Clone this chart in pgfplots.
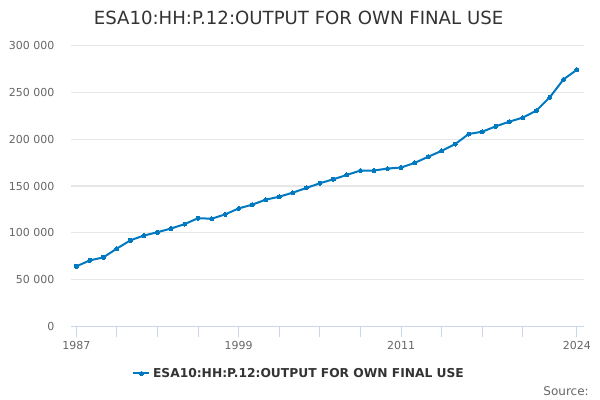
\documentclass[border=0pt]{standalone}
\usepackage{pgfplots}
\pgfplotsset{compat=1.18}
\usepackage{fontspec}
\setmainfont{DejaVu Sans}
\definecolor{lineblue}{RGB}{0,121,193}
\definecolor{gridgray}{RGB}{230,230,230}
\definecolor{axisblue}{RGB}{204,214,235}
\definecolor{labelgray}{RGB}{102,102,102}
\definecolor{titlegray}{RGB}{51,51,51}
\begin{document}
\begin{tikzpicture}
\path[use as bounding box] (0,0) rectangle (450pt,300pt);
\begin{axis}[
  at={(53.25pt,54.975pt)}, anchor=south west,
  scale only axis, width=384.75pt, height=211.05pt,
  xmin=1986.61, xmax=2024.52, ymin=0, ymax=300000,
  axis x line*=bottom, axis y line*=left,
  x axis line style={draw=axisblue, line width=0.75pt, -},
  y axis line style={draw=none, -},
  xtick={1987,1990,1993,1996,1999,2002,2005,2008,2011,2014,2017,2020,2024},
  xticklabels={1987,,,,1999,,,,2011,,,,2024},
  tick align=outside, major tick length=7.5pt,
  xtick style={draw=axisblue, line width=0.75pt},
  ytick={0,50000,100000,150000,200000,250000,300000},
  yticklabels={0,50 000,100 000,150 000,200 000,250 000,300 000},
  scaled y ticks=false,
  ymajorgrids, grid style={draw=gridgray, line width=0.75pt},
  ytick style={draw=none},
  yticklabel style={font=\fontsize{8.25pt}{9pt}\selectfont, text=labelgray, anchor=east, xshift=-1.5pt},
  xticklabel style={font=\fontsize{8.25pt}{9pt}\selectfont, text=labelgray},
  clip=false,
  legend style={at={(0.4454,-0.1663)}, anchor=center, draw=none, fill=none,
    font=\fontsize{9.2pt}{11pt}\selectfont\bfseries, text=titlegray},
  legend image code/.code={\draw[mark repeat=2,mark phase=2,#1] plot coordinates {(0cm,0cm) (0.21cm,0cm) (0.42cm,0cm)};},
]
\addplot[color=lineblue, line width=1.5pt, mark=*, mark size=1.5pt, mark options={draw=lineblue, fill=lineblue, line width=0pt}] coordinates {
(1987,64300) (1988,70700) (1989,73900) (1990,83300) (1991,92100) (1992,97200)
(1993,100700) (1994,104700) (1995,109300) (1996,115700) (1997,115100) (1998,119700)
(1999,126100) (2000,130100) (2001,135400) (2002,138600) (2003,142900) (2004,147900)
(2005,152900) (2006,157200) (2007,161800) (2008,166500) (2009,166500) (2010,168600)
(2011,169700) (2012,174600) (2013,181100) (2014,187500) (2015,194700) (2016,205400)
(2017,207900) (2018,213600) (2019,218600) (2020,222900) (2021,230400) (2022,244700)
(2023,263600) (2024,274000)
};
\addlegendentry{ESA10:HH:P.12:OUTPUT FOR OWN FINAL USE}
\end{axis}
\node[anchor=base, text=titlegray, font=\fontsize{13.6pt}{16pt}\selectfont] at (223.9pt,281.8pt) {ESA10:HH:P.12:OUTPUT FOR OWN FINAL USE};
\node[anchor=base east, inner sep=0pt, text=labelgray, font=\fontsize{9pt}{11pt}\selectfont] at (441.75pt,3.5pt) {Source:};
\end{tikzpicture}
\end{document}
